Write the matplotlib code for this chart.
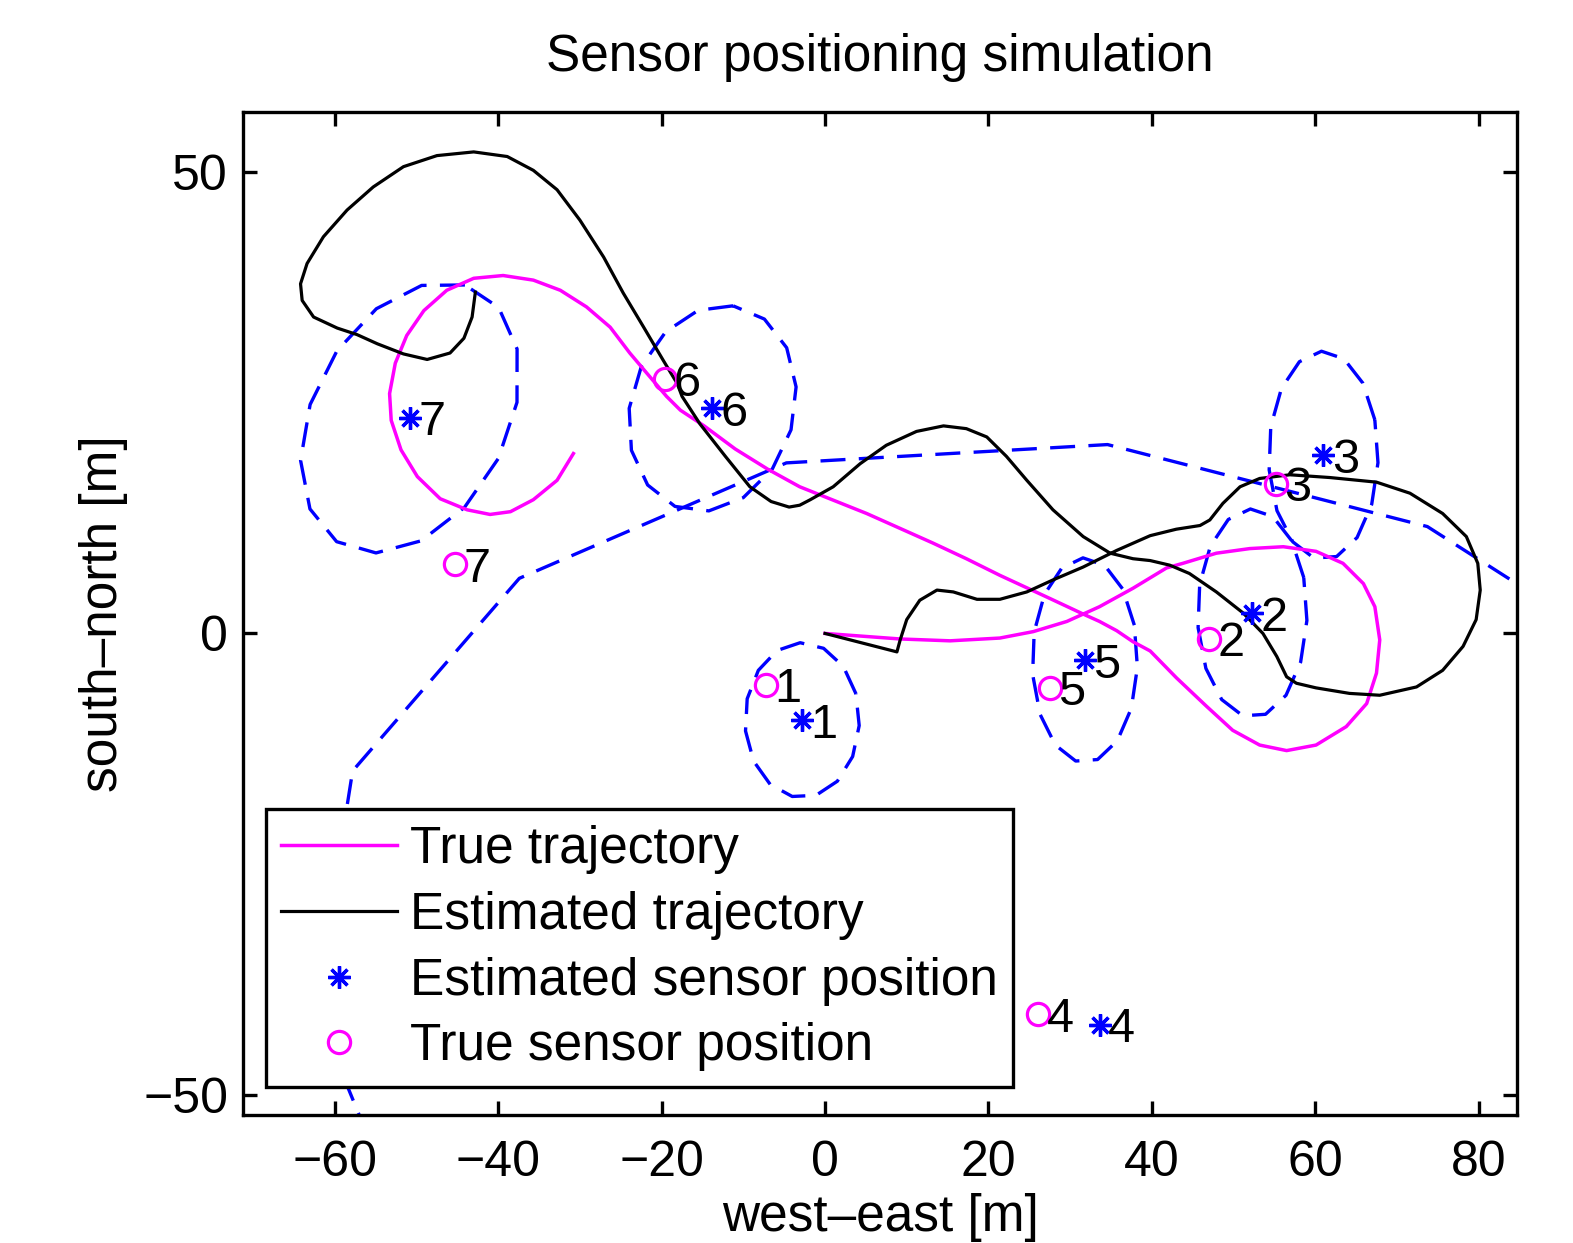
import numpy as np
import matplotlib.pyplot as plt

plt.rcParams['font.family'] = ['Liberation Sans', 'DejaVu Sans']

# true trajectory (magenta), metres
true_x = [0, 9.2, 15.3, 21.4, 25.5, 29.6, 33.6, 37.7, 41.8, 43.8, 47.9, 52.0, 56.1, 60.1,
          63.4, 65.9, 67.3, 67.9, 67.5, 66.3, 63.8, 60.1, 56.5, 53.2, 49.9, 46.7, 43.0,
          39.8, 37.7, 35.7, 33.6, 31.6, 27.5, 21.4, 17.3, 13.2, 5.1, -3.1, -7.0, -11.0,
          -14.8, -17.7, -19.4, -21.8, -23.9, -26.3, -29.2, -32.4, -35.7, -39.4, -43.0,
          -46.3, -49.1, -51.2, -52.6, -53.3, -53.1, -51.9, -49.9, -47.1, -43.8, -41.0,
          -38.5, -35.7, -32.8, -30.8]
true_y = [0, -0.6, -0.8, -0.5, 0.2, 1.3, 2.9, 4.9, 7.1, 7.6, 8.7, 9.2, 9.4, 8.9,
          7.6, 5.4, 2.9, -0.7, -4.3, -7.6, -10.1, -12.1, -12.7, -12.1, -10.5, -7.9, -4.8,
          -1.9, -0.9, 0.3, 1.3, 2.1, 3.8, 6.3, 8.1, 9.8, 13.0, 15.9, 17.8, 20.0,
          22.5, 24.2, 25.7, 28.2, 30.4, 33.2, 35.4, 37.2, 38.3, 38.8, 38.5,
          37.2, 35.0, 32.3, 29.3, 26.0, 23.1, 19.9, 17.0, 14.6, 13.4, 12.9,
          13.2, 14.5, 16.6, 19.5]

# estimated trajectory (black)
est_x = [0, 8.8, 9.2, 10.0, 11.6, 13.7, 15.7, 18.6, 21.4, 24.7, 27.9, 31.6, 35.7, 39.8,
         43.0, 45.9, 47.1, 48.7, 50.8, 53.2, 56.9, 61.8, 67.5, 71.6, 75.6, 78.5, 79.9,
         80.2, 79.7, 78.1, 75.6, 72.4, 67.9, 64.2, 60.1, 57.7, 56.5, 55.3, 53.6, 51.2,
         47.9, 44.6, 42.2, 39.8, 37.7, 34.9, 31.6, 27.9, 24.7, 22.2, 19.8, 17.3, 14.5,
         11.2, 7.5, 4.3, 1.0, -1.8, -3.1, -4.4, -6.6, -9.2, -12.2, -15.3, -17.5, -18.1,
         -19.8, -22.2, -24.7, -27.1, -30.0, -32.8, -35.7, -38.9, -43.0, -47.5, -51.6,
         -55.3, -58.5, -61.4, -63.4, -64.2, -64.0, -62.6, -59.7, -57.3, -54.8, -51.6,
         -48.7, -45.9, -44.2, -43.2, -42.8]
est_y = [0, -2.0, -0.7, 1.5, 3.6, 4.7, 4.5, 3.7, 3.7, 4.5, 5.8, 7.2, 9.0, 10.6,
         11.3, 11.7, 12.3, 14.1, 15.9, 16.8, 17.2, 16.9, 16.4, 15.2, 13.0, 10.5, 7.6,
         4.7, 1.5, -1.4, -4.0, -5.8, -6.7, -6.5, -5.9, -5.4, -4.7, -2.5, 0.0, 2.2,
         4.5, 6.5, 7.4, 7.9, 8.1, 8.7, 10.5, 13.4, 16.6, 19.2, 21.3, 22.2, 22.5,
         21.9, 20.4, 18.4, 15.9, 14.5, 13.9, 13.7, 14.3, 15.9, 19.2, 22.7, 25.7, 27.1,
         29.6, 33.2, 36.9, 40.8, 44.8, 48.1, 50.2, 51.7, 52.2, 51.8, 50.6,
         48.4, 45.9, 43.0, 40.1, 37.9, 36.1, 34.3, 33.1, 32.4, 31.4, 30.3,
         29.7, 30.4, 32.0, 34.3, 37.0]

# sensors 1..7
sensor_ids = ['1', '2', '3', '4', '5', '6', '7']
sens_est_x = [-2.8, 52.3, 61.0, 33.6, 31.8, -13.8, -50.8]
sens_est_y = [-9.4, 2.2, 19.3, -42.4, -2.9, 24.4, 23.4]
sens_true_x = [-7.2, 47.0, 55.2, 26.1, 27.5, -19.6, -45.3]
sens_true_y = [-5.6, -0.6, 16.2, -41.3, -5.9, 27.6, 7.5]

# uncertainty ellipses around the estimates: semi-axes, orientation and start angle (deg)
ell_a = [7.0, 6.7, 6.7, 97.0, 6.45, 11.6, 16.2]
ell_b = [8.4, 11.3, 11.3, 62.6, 11.1, 9.8, 11.5]
ell_ang = [0, 0, 0, -8, 0, 60, 53]
ell_phase = [20, 20, 20, 22.6, 20, 20, 16.6]

fig = plt.figure(figsize=(15.73, 12.43), dpi=100)
ax = fig.add_axes([0.1547, 0.103, 0.8097, 0.8067])

for cx, cy, a, b, ang, ph in zip(sens_est_x, sens_est_y, ell_a, ell_b, ell_ang, ell_phase):
    t = np.deg2rad(ph) + np.linspace(0, 2 * np.pi, 16)
    th = np.deg2rad(ang)
    ex = cx + a * np.cos(t) * np.cos(th) - b * np.sin(t) * np.sin(th)
    ey = cy + a * np.cos(t) * np.sin(th) + b * np.sin(t) * np.cos(th)
    ln, = ax.plot(ex, ey, color='blue', lw=2.4)
    ln.set_dashes([7.5, 4])

ax.plot(true_x, true_y, color='magenta', lw=2.5, label='True trajectory')
ax.plot(est_x, est_y, color='black', lw=2.3, label='Estimated trajectory')
ax.plot(sens_est_x, sens_est_y, ls='none', marker=(8, 2, 0), ms=16, mew=2.4,
        color='blue', label='Estimated sensor position')
ax.plot(sens_true_x, sens_true_y, ls='none', marker='o', ms=16, mew=2.3,
        mfc='none', mec='magenta', label='True sensor position')

for sid, x, y in zip(sensor_ids, sens_est_x, sens_est_y):
    ax.annotate(sid, (x, y), xytext=(6, -12.5), textcoords='offset points',
                fontsize=35, va='baseline', ha='left')
for sid, x, y in zip(sensor_ids, sens_true_x, sens_true_y):
    ax.annotate(sid, (x, y), xytext=(6, -12.5), textcoords='offset points',
                fontsize=35, va='baseline', ha='left')

ax.set_xlim(-71.2, 84.7)
ax.set_ylim(-52.2, 56.5)
ax.set_xticks([-60, -40, -20, 0, 20, 40, 60, 80])
ax.set_yticks([-50, 0, 50])
ax.tick_params(direction='in', length=10, width=2.4, labelsize=36,
               top=True, right=True)
ax.tick_params(axis='x', pad=18)
ax.tick_params(axis='y', pad=11)
for s in ax.spines.values():
    s.set_linewidth(2.4)

ax.set_title('Sensor positioning simulation', fontsize=37, pad=30)
ax.set_xlabel('west\u2013east [m]', fontsize=37, labelpad=5)
ax.set_ylabel('south\u2013north [m]', fontsize=37, labelpad=11)

leg = ax.legend(loc='lower left', bbox_to_anchor=(0.0178, 0.028), borderaxespad=0,
                fontsize=37, handlelength=2.25, handletextpad=0.25,
                borderpad=0.3, labelspacing=0.33, fancybox=False, framealpha=1)
leg.get_frame().set_edgecolor('black')
leg.get_frame().set_linewidth(2.4)

fig.savefig('out.png', dpi=100)
